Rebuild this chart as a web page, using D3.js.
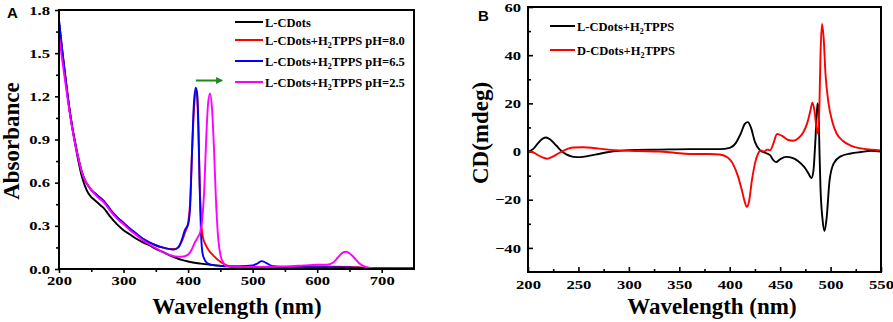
<!DOCTYPE html>
<html>
<head>
<meta charset="utf-8">
<script src="https://cdn.jsdelivr.net/npm/d3@7"></script>
<style>
  body { margin: 0; background: #fff; }
  svg { display: block; }
  .axis path, .axis line { stroke: #000; }
  .axis text { font-family: 'Liberation Serif', 'Tinos', 'DejaVu Serif', serif; font-weight: bold; font-size: 13px; fill: #000; }
  .title { font-family: 'Liberation Serif', 'Tinos', 'DejaVu Serif', serif; font-weight: bold; font-size: 23px; }
  .legend { font-family: 'Liberation Serif', 'Tinos', 'DejaVu Serif', serif; font-weight: bold; font-size: 12.5px; }
  .panel { font-family: 'Liberation Sans', Arial, sans-serif; font-weight: bold; font-size: 15px; }
</style>
</head>
<body>
<div id="chart"></div>
<script>
// ---------- panel A: UV-vis absorbance ----------
const absTicks = [0, 0.3, 0.6, 0.9, 1.2, 1.5, 1.8];
const wlTicksA = [200, 300, 400, 500, 600, 700];

const absLCDots = [[200,1.72],[205,1.52],[210,1.33],[215,1.15],[220,1.0],[225,0.87],[230,0.75],[235,0.65],[240,0.58],[245,0.53],[250,0.5],[255,0.48],[260,0.46],[265,0.44],[270,0.42],[275,0.39],[280,0.36],[290,0.31],[300,0.27],[310,0.24],[320,0.21],[330,0.185],[340,0.165],[350,0.14],[360,0.12],[370,0.098],[380,0.08],[390,0.064],[400,0.052],[420,0.037],[440,0.027],[460,0.018],[480,0.012],[500,0.008],[550,0.005],[600,0.004],[700,0.003],[750,0.003]];

const absPH80 = [[200,1.7],[205,1.5],[210,1.32],[215,1.15],[220,1.0],[225,0.88],[230,0.77],[235,0.68],[240,0.62],[245,0.58],[250,0.55],[260,0.51],[270,0.47],[280,0.41],[290,0.36],[300,0.32],[310,0.28],[320,0.245],[330,0.21],[340,0.185],[350,0.165],[360,0.15],[370,0.14],[380,0.14],[390,0.19],[395,0.25],[400,0.32],[403,0.45],[406,0.8],[409,1.1],[412,1.25],[414,1.2],[416,0.95],[418,0.6],[420,0.35],[423,0.22],[427,0.17],[432,0.13],[440,0.09],[450,0.05],[460,0.025],[470,0.015],[500,0.015],[550,0.015],[600,0.018],[650,0.015],[670,0.01],[700,0.003],[750,0.002]];

const absPH65 = [[200,1.73],[205,1.52],[210,1.33],[215,1.15],[220,1.0],[225,0.88],[230,0.77],[235,0.68],[240,0.62],[245,0.58],[250,0.55],[260,0.51],[270,0.47],[280,0.41],[290,0.36],[300,0.32],[310,0.28],[320,0.245],[330,0.21],[340,0.185],[350,0.165],[360,0.15],[370,0.14],[378,0.135],[385,0.15],[390,0.2],[395,0.27],[400,0.31],[403,0.42],[406,0.8],[409,1.15],[412,1.26],[414,1.22],[416,1.0],[418,0.55],[420,0.25],[422,0.12],[425,0.07],[430,0.04],[440,0.025],[460,0.02],[480,0.02],[500,0.025],[508,0.04],[514,0.055],[520,0.045],[530,0.022],[550,0.015],[600,0.012],[650,0.01],[700,0.005],[750,0.003]];

const absPH25 = [[200,1.62],[205,1.45],[210,1.29],[215,1.13],[220,0.99],[225,0.87],[230,0.77],[235,0.68],[240,0.62],[245,0.58],[250,0.55],[260,0.5],[270,0.46],[280,0.4],[290,0.35],[300,0.31],[310,0.27],[320,0.235],[330,0.2],[340,0.17],[350,0.145],[360,0.12],[370,0.1],[380,0.088],[390,0.085],[400,0.1],[405,0.13],[410,0.18],[415,0.22],[419,0.26],[422,0.35],[425,0.55],[428,0.9],[431,1.15],[434,1.22],[437,1.12],[440,0.85],[443,0.5],[446,0.25],[450,0.1],[455,0.04],[460,0.02],[480,0.015],[500,0.015],[550,0.018],[580,0.025],[600,0.03],[615,0.03],[625,0.045],[632,0.08],[640,0.115],[645,0.12],[650,0.11],[657,0.08],[665,0.04],[675,0.015],[690,0.004],[750,0.002]];

const legendA = ["L-CDots", "L-CDots+H|2|TPPS pH=8.0", "L-CDots+H|2|TPPS pH=6.5", "L-CDots+H|2|TPPS pH=2.5"];

// ---------- panel B: circular dichroism ----------
const cdTicks = [-40, -20, 0, 20, 40, 60];
const wlTicksB = [200, 250, 300, 350, 400, 450, 500, 550];

const cdLCDots = [[200,0],[205,1],[210,3.5],[215,5.5],[218,5.8],[222,5],[228,2.5],[233,0.3],[238,-1.2],[245,-2.2],[252,-2.3],[260,-1.8],[270,-1],[280,-0.2],[290,0.3],[300,0.6],[330,0.8],[360,1],[390,1],[400,1.5],[406,3.5],[411,7.5],[415,11.5],[418,12.2],[421,10],[425,4],[430,0.5],[435,-0.5],[440,-1.5],[443,-3.5],[446,-4.4],[450,-3.2],[456,-2.2],[462,-2.6],[468,-4],[474,-6.5],[478,-9],[481,-11],[483,-8],[485,5],[487,20],[488,18],[489,0],[490,-15],[492,-28],[494,-33],[496,-28],[499,-12],[503,-5],[510,-2],[520,-0.8],[530,-0.2],[540,0.3],[550,0]];

const cdDCDots = [[200,0],[205,-0.3],[210,-1.5],[215,-2.5],[219,-3],[224,-2.2],[230,-0.8],[235,0.3],[240,1.2],[245,1.7],[255,1.8],[265,1.5],[275,1],[290,0.5],[310,0.2],[330,0],[345,-0.5],[360,-1],[380,-1],[390,-1.2],[398,-2.5],[403,-5],[408,-10],[412,-16],[415,-21],[417,-23],[419,-21],[422,-12],[425,-5],[428,-1],[431,0.5],[434,0],[437,0.8],[440,0.5],[443,3],[447,7.3],[452,6.5],[458,4.8],[463,4.5],[468,5.5],[473,8],[477,12],[480,17],[482,20.3],[484,17],[486,10],[487.5,7.5],[489,20],[490,40],[491.5,53],[493,48],[495,32],[498,20],[502,12],[506,7.5],[512,4.5],[520,2.5],[530,1.3],[540,0.8],[550,0.5]];

const legendB = ["L-CDots+H|2|TPPS", "D-CDots+H|2|TPPS"];

const W = 893, H = 322;
const SX = 1.28; // tick labels in the picture are stretched sideways
const SERIF = "'Liberation Serif', 'Tinos', 'DejaVu Serif', serif";

const svg = d3.select("#chart").append("svg")
    .attr("width", W)
    .attr("height", H);

// writes "a|2|b" with the middle piece as a subscript
function richText(sel, str) {
    const parts = str.split("|");
    parts.forEach((p, i) => {
        const t = sel.append("tspan").text(p);
        if (i === 1) t.attr("font-size", "8px").attr("dy", 3);
        if (i === 2) t.attr("dy", -3);
    });
}

function styleTicks(g, anchorX) {
    g.attr("font-family", SERIF).attr("font-weight", "bold").attr("font-size", 13);
    g.select(".domain").remove();
    g.selectAll(".tick line").attr("stroke-width", 1.6);
    g.selectAll(".tick text").attr("transform", `scale(${SX},1)`);
    if (anchorX !== undefined) g.selectAll(".tick text").attr("x", anchorX / SX);
}

// ---------- draw panel A ----------
{
    const m = { left: 59, top: 10, right: 414, bottom: 269 };
    const x = d3.scaleLinear().domain([200, 750]).range([m.left, m.right]);
    const y = d3.scaleLinear().domain([0, 1.8]).range([m.bottom, m.top]);
    const g = svg.append("g");

    // minor ticks
    g.append("g").attr("class", "axis")
        .attr("transform", `translate(0,${m.bottom})`)
        .call(d3.axisBottom(x).tickValues(d3.range(250, 750, 100)).tickSize(3).tickFormat(""))
        .call(a => styleTicks(a));
    g.append("g").attr("class", "axis")
        .attr("transform", `translate(${m.left},0)`)
        .call(d3.axisLeft(y).tickValues(d3.range(0.15, 1.8, 0.3)).tickSize(3).tickFormat(""))
        .call(a => styleTicks(a));

    // major ticks
    g.append("g").attr("class", "axis")
        .attr("transform", `translate(0,${m.bottom})`)
        .call(d3.axisBottom(x).tickValues(wlTicksA).tickSize(4).tickPadding(3).tickFormat(d3.format("d")))
        .call(a => styleTicks(a));
    g.append("g").attr("class", "axis")
        .attr("transform", `translate(${m.left},0)`)
        .call(d3.axisLeft(y).tickValues(absTicks).tickSize(4).tickFormat(d3.format(".1f")))
        .call(a => styleTicks(a, -9));

    const line = d3.line()
        .x(d => x(d[0]))
        .y(d => y(d[1]))
        .curve(d3.curveMonotoneX);

    const series = [
        { data: absLCDots, color: "#000000" },
        { data: absPH80, color: "#ff0000" },
        { data: absPH65, color: "#0000ff" },
        { data: absPH25, color: "#ff00ff" }
    ];
    g.selectAll(".lineA").data(series).enter()
        .append("path")
        .attr("class", "lineA")
        .attr("fill", "none")
        .attr("stroke", d => d.color)
        .attr("stroke-width", 1.9)
        .attr("d", d => line(d.data));

    g.append("rect")
        .attr("x", m.left).attr("y", m.top)
        .attr("width", m.right - m.left).attr("height", m.bottom - m.top)
        .attr("fill", "none").attr("stroke", "#000").attr("stroke-width", 2);

    // legend
    const rowsY = [22, 40, 61, 82];
    const leg = g.selectAll(".legA").data(legendA).enter()
        .append("g").attr("class", "legA")
        .attr("transform", (d, i) => `translate(235,${rowsY[i]})`);
    leg.append("line")
        .attr("x1", 0).attr("x2", 28)
        .attr("stroke", (d, i) => series[i].color)
        .attr("stroke-width", 2);
    leg.append("text")
        .attr("class", "legend")
        .attr("font-family", SERIF)
        .attr("x", 30).attr("y", 4.5)
        .each(function (d) { richText(d3.select(this), d); });

    // green shift arrow
    svg.append("defs").append("marker")
        .attr("id", "arrowhead")
        .attr("viewBox", "0 0 10 10")
        .attr("refX", 8).attr("refY", 5)
        .attr("markerWidth", 3.5).attr("markerHeight", 3.5)
        .attr("orient", "auto")
        .append("path").attr("d", "M0,0L10,5L0,10z").attr("fill", "#1e8a1e");
    g.append("line")
        .attr("x1", x(412)).attr("x2", x(452))
        .attr("y1", y(1.31)).attr("y2", y(1.31))
        .attr("stroke", "#1e8a1e").attr("stroke-width", 2)
        .attr("marker-end", "url(#arrowhead)");

    g.append("text").attr("class", "title")
        .attr("font-family", SERIF)
        .attr("transform", "translate(19,141) rotate(-90)")
        .attr("text-anchor", "middle")
        .text("Absorbance");
    g.append("text").attr("class", "title")
        .attr("font-family", SERIF)
        .attr("x", 237).attr("y", 314)
        .attr("text-anchor", "middle")
        .text("Wavelength (nm)");
    g.append("text").attr("class", "panel")
        .attr("x", 7).attr("y", 18)
        .text("A");
}

// ---------- draw panel B ----------
{
    const m = { left: 528, top: 7, right: 881, bottom: 272 };
    const x = d3.scaleLinear().domain([200, 550]).range([m.left, m.right]);
    const y = d3.scaleLinear().domain([-50, 60]).range([m.bottom, m.top]);
    const g = svg.append("g");

    g.append("g").attr("class", "axis")
        .attr("transform", `translate(0,${m.bottom})`)
        .call(d3.axisBottom(x).tickValues(d3.range(225, 550, 50)).tickSize(-3).tickFormat(""))
        .call(a => styleTicks(a));
    g.append("g").attr("class", "axis")
        .attr("transform", `translate(${m.left},0)`)
        .call(d3.axisLeft(y).tickValues(d3.range(-30, 60, 20)).tickSize(-3).tickFormat(""))
        .call(a => styleTicks(a));

    g.append("g").attr("class", "axis")
        .attr("transform", `translate(0,${m.bottom})`)
        .call(d3.axisBottom(x).tickValues(wlTicksB).tickSize(-5).tickPadding(8).tickFormat(d3.format("d")))
        .call(a => styleTicks(a));
    g.append("g").attr("class", "axis")
        .attr("transform", `translate(${m.left},0)`)
        .call(d3.axisLeft(y).tickValues(cdTicks).tickSize(-5).tickFormat(d3.format("d")))
        .call(a => styleTicks(a, -7));

    const line = d3.line()
        .x(d => x(d[0]))
        .y(d => y(d[1]))
        .curve(d3.curveMonotoneX);

    const series = [
        { data: cdLCDots, color: "#000000" },
        { data: cdDCDots, color: "#ff0000" }
    ];
    g.selectAll(".lineB").data(series).enter()
        .append("path")
        .attr("class", "lineB")
        .attr("fill", "none")
        .attr("stroke", d => d.color)
        .attr("stroke-width", 1.9)
        .attr("d", d => line(d.data));

    g.append("rect")
        .attr("x", m.left).attr("y", m.top)
        .attr("width", m.right - m.left).attr("height", m.bottom - m.top)
        .attr("fill", "none").attr("stroke", "#000").attr("stroke-width", 2);

    const rowsY = [26, 50];
    const leg = g.selectAll(".legB").data(legendB).enter()
        .append("g").attr("class", "legB")
        .attr("transform", (d, i) => `translate(550,${rowsY[i]})`);
    leg.append("line")
        .attr("x1", 0).attr("x2", 25)
        .attr("stroke", (d, i) => series[i].color)
        .attr("stroke-width", 2);
    leg.append("text")
        .attr("class", "legend")
        .attr("font-family", SERIF)
        .attr("x", 27).attr("y", 4.5)
        .each(function (d) { richText(d3.select(this), d); });

    g.append("text").attr("class", "title")
        .attr("font-family", SERIF)
        .attr("transform", "translate(488,133) rotate(-90)")
        .attr("text-anchor", "middle")
        .text("CD(mdeg)");
    g.append("text").attr("class", "title")
        .attr("font-family", SERIF)
        .attr("x", 712).attr("y", 314)
        .attr("text-anchor", "middle")
        .text("Wavelength (nm)");
    g.append("text").attr("class", "panel")
        .attr("x", 478).attr("y", 21)
        .text("B");
}
</script>
</body>
</html>
